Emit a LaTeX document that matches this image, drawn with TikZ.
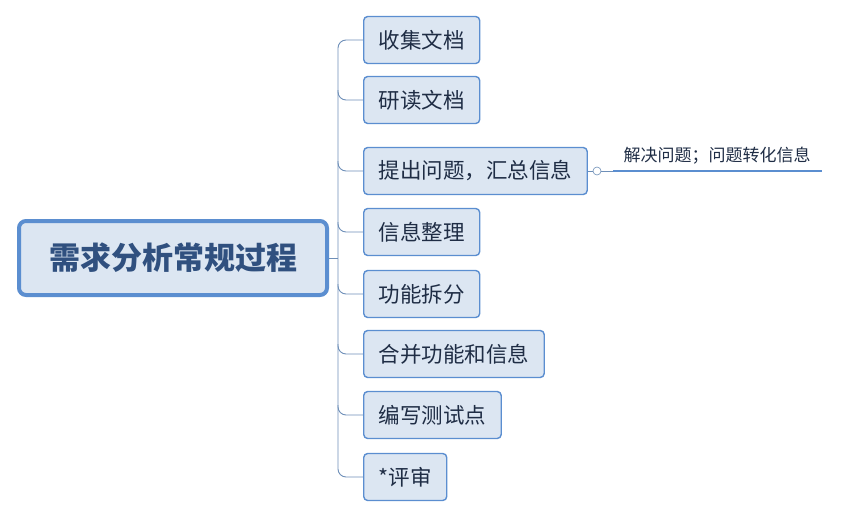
\documentclass[tikz,border=0pt]{standalone}
\usepackage{fontspec}
\setmainfont{Liberation Sans}
\newfontfamily\cjk{Noto Sans CJK SC}
\definecolor{boxfill}{HTML}{DCE6F2}
\definecolor{boxline}{HTML}{5B8ED0}
\definecolor{txt}{HTML}{1F2D45}
\definecolor{roottxt}{HTML}{30507F}
\definecolor{conn}{HTML}{6E8FB8}
\begin{document}
\begin{tikzpicture}[x=1pt,y=-1pt,
  child/.style={draw=boxline,line width=1.4pt,fill=boxfill,rounded corners=4pt,
    anchor=west,minimum height=47pt,inner xsep=15pt,text=txt,font=\cjk\fontsize{21.5}{21.5}\selectfont},
  rootbox/.style={draw=boxline,line width=4pt,fill=boxfill,rounded corners=7pt,
    minimum width=308pt,minimum height=74pt,text=roottxt,font=\cjk\bfseries\fontsize{31}{31}\selectfont},
  link/.style={draw=conn,line width=0.9pt,rounded corners=8pt}]
\useasboundingbox (0,0) rectangle (841,517);
\node[rootbox] (root) at (173,258) {需求分析常规过程};
\node[child] (c1) at (363,40) {收集文档};
\node[child] (c2) at (363,100) {研读文档};
\node[child] (c3) at (363,171) {提出问题，汇总信息};
\node[child] (c4) at (363,232) {信息整理};
\node[child] (c5) at (363,294) {功能拆分};
\node[child] (c6) at (363,354) {合并功能和信息};
\node[child] (c7) at (363,415) {编写测试点};
\node[child] (c8) at (363,477) {*评审};
\coordinate (tr) at (338,258);
\draw[draw=conn,line width=0.9pt] (root.east) -- (tr);
\draw[link] (c1.west) -- (338,40) -- (338,477) -- (c8.west);
\foreach \i in {2,...,7}{
  \draw[link] (338,0 |- c\i.west) ++(0,-10) -- ++(0,10) -- (c\i.west);
}
\node[draw=conn,line width=0.6pt,circle,inner sep=0pt,minimum size=8pt,fill=white] (knob) at (597,171) {};
\draw[draw=conn,line width=0.6pt] (c3.east) -- (knob);
\coordinate (ul1) at (613,171);
\coordinate (ul2) at (822,171);
\draw[draw=conn,line width=0.6pt] (knob) -- (ul1);
\draw[draw=boxline,line width=2.2pt] (ul1) -- (ul2);
\node[text=txt,font=\cjk\fontsize{17}{17}\selectfont,anchor=base] (lbl) at (717,161) {解决问题；问题转化信息};
\end{tikzpicture}
\end{document}
